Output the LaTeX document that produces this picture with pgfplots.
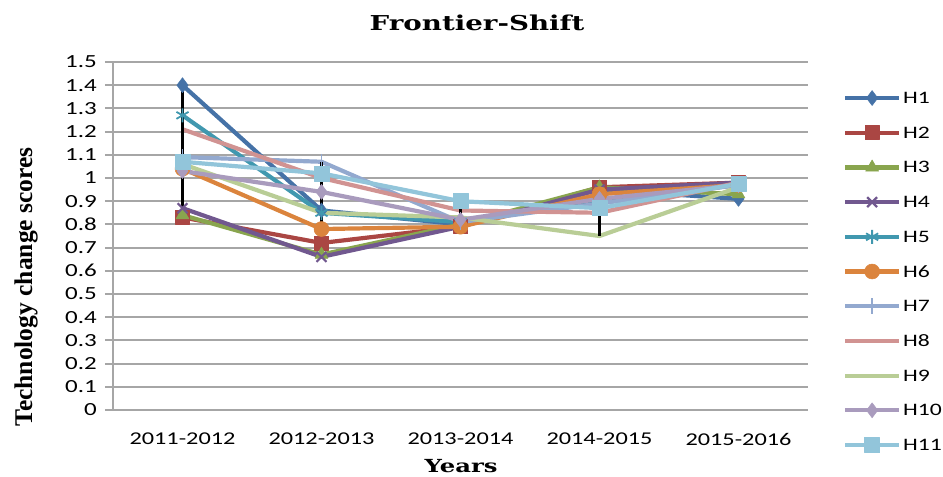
\documentclass[border=0pt]{standalone}
\usepackage{pgfplots}
\pgfplotsset{compat=1.18}
\usepackage{fontspec}
\setmainfont{Carlito}
\newfontfamily\tickfont[FakeStretch=1.35]{Carlito}
\newfontfamily\titlefont[FakeStretch=1.35]{DejaVu Serif}
\newfontfamily\ylabfont{Liberation Serif}
\definecolor{gridgray}{HTML}{A6A6A6}
\definecolor{c1}{HTML}{4572A7}
\definecolor{c2}{HTML}{AA4643}
\definecolor{c3}{HTML}{89A54E}
\definecolor{c4}{HTML}{71588F}
\definecolor{c5}{HTML}{4198AF}
\definecolor{c6}{HTML}{DB843D}
\definecolor{c7}{HTML}{93A9CF}
\definecolor{c8}{HTML}{D19392}
\definecolor{c9}{HTML}{B9CD96}
\definecolor{c10}{HTML}{A99BBD}
\definecolor{c11}{HTML}{92C5DA}
\begin{document}
\begin{tikzpicture}[every mark/.append style={xscale=1.3}]
\path[use as bounding box] (0bp,0bp) rectangle (943bp,477bp);
\begin{scope}[shift={(113bp,67bp)}]
\begin{axis}[
  at={(0bp,0bp)}, anchor=south west, scale only axis,
  width=695bp, height=348bp,
  xmin=-0.5, xmax=4.5, ymin=0, ymax=1.5,
  axis lines*=left,
  axis line style={draw=gridgray, line width=2bp},
  xtick={0,1,2,3,4},
  xticklabels={2011-2012,2012-2013,2013-2014,2014-2015,2015-2016},
  x tick style={draw=none},
  xticklabel style={font=\fontsize{18bp}{20bp}\tickfont, anchor=north, inner sep=0pt, yshift=-15bp},
  ytick={0,0.1,0.2,0.3,0.4,0.5,0.6,0.7,0.8,0.9,1,1.1,1.2,1.3,1.4,1.5},
  yticklabels={0,0.1,0.2,0.3,0.4,0.5,0.6,0.7,0.8,0.9,1,1.1,1.2,1.3,1.4,1.5},
  y tick style={draw=gridgray, line width=2bp},
  tick align=outside, major tick length=8bp,
  yticklabel style={font=\fontsize{18.5bp}{20bp}\tickfont, anchor=east, inner sep=0pt, xshift=-8bp},
  ymajorgrids, grid style={draw=gridgray, line width=2bp},
  every axis plot/.append style={line width=4.2bp, line join=round},
  legend style={at={(1.0504,0.9195)}, anchor=north west, draw=none, fill=none,
    inner sep=0pt, outer sep=0pt, row sep=18.7bp,
    font=\fontsize{17.5bp}{19bp}\tickfont,
    nodes={inner xsep=2bp, inner ysep=0pt, text height=11bp, text depth=0pt}},
  legend cell align=left,
  legend image code/.code={\path[draw=none,fill=none] (0bp,-8bp) rectangle (54bp,8bp);
    \draw[mark repeat=2,mark phase=2,#1] plot coordinates {(0bp,0bp) (27bp,0bp) (54bp,0bp)};},
]
\addplot[c1, mark=diamond*, mark size=7.5bp, mark options={line width=0.5bp, fill=c1}]
  coordinates {(0,1.40) (1,0.86) (2,0.80) (3,0.95) (4,0.91)};
\addlegendentry{H1}
\addplot[c2, mark=square*, mark size=7bp, mark options={line width=0.5bp, fill=c2}]
  coordinates {(0,0.83) (1,0.72) (2,0.79) (3,0.96) (4,0.98)};
\addlegendentry{H2}
\addplot[c3, mark=triangle*, mark size=7.5bp, mark options={line width=0.5bp, fill=c3}]
  coordinates {(0,0.84) (1,0.67) (2,0.80) (3,0.96) (4,0.93)};
\addlegendentry{H3}
\addplot[c4, mark=x, mark size=7bp, mark options={line width=2.2bp}]
  coordinates {(0,0.87) (1,0.66) (2,0.79) (3,0.95) (4,0.98)};
\addlegendentry{H4}
\addplot[c5, mark=asterisk, mark size=7bp, mark options={line width=1.8bp}]
  coordinates {(0,1.27) (1,0.85) (2,0.81) (3,0.90) (4,0.97)};
\addlegendentry{H5}
\addplot[c6, mark=*, mark size=7.5bp, mark options={line width=0.5bp, fill=c6}]
  coordinates {(0,1.04) (1,0.78) (2,0.79) (3,0.93) (4,0.97)};
\addlegendentry{H6}
\addplot[c7, mark=|, mark size=8bp, mark options={line width=1.8bp}]
  coordinates {(0,1.09) (1,1.07) (2,0.81) (3,0.89) (4,0.97)};
\addlegendentry{H7}
\addplot[c8, no markers]
  coordinates {(0,1.21) (1,1.00) (2,0.86) (3,0.85) (4,0.98)};
\addlegendentry{H8}
\addplot[c9, no markers]
  coordinates {(0,1.06) (1,0.85) (2,0.83) (3,0.75) (4,0.96)};
\addlegendentry{H9}
\addplot[c10, mark=diamond*, mark size=7.5bp, mark options={line width=0.5bp, fill=c10}]
  coordinates {(0,1.03) (1,0.94) (2,0.82) (3,0.91) (4,0.97)};
\addlegendentry{H10}
\addplot[c11, mark=square*, mark size=7.5bp, mark options={line width=0.5bp, fill=c11}]
  coordinates {(0,1.07) (1,1.02) (2,0.90) (3,0.87) (4,0.975)};
\addlegendentry{H11}
% high-low lines
\addplot[black, line width=2.4bp, forget plot] coordinates {(0,0.83) (0,1.40)};
\addplot[black, line width=2.4bp, forget plot] coordinates {(1,0.66) (1,1.07)};
\addplot[black, line width=2.4bp, forget plot] coordinates {(2,0.79) (2,0.90)};
\addplot[black, line width=2.4bp, forget plot] coordinates {(3,0.75) (3,0.96)};
\addplot[black, line width=2.4bp, forget plot] coordinates {(4,0.91) (4,0.98)};
\end{axis}
\end{scope}
\node[font=\fontsize{20.5bp}{24bp}\titlefont\bfseries] at (477bp,454bp) {Frontier-Shift};
\node[font=\fontsize{18bp}{20bp}\titlefont\bfseries] at (461bp,11bp) {Years};
\node[rotate=90, font=\fontsize{25.5bp}{28bp}\ylabfont\bfseries] at (26bp,190bp) {Technology change scores};
\end{tikzpicture}
\end{document}
